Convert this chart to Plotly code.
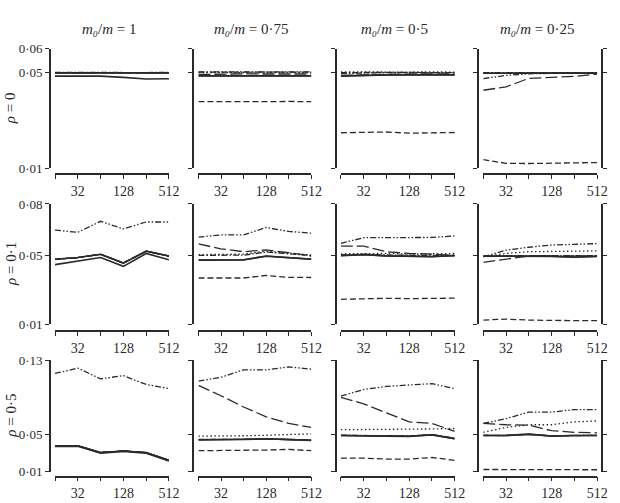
import math
import plotly.graph_objects as go

# ---------------- data ----------------
N = [16, 32, 64, 128, 256, 512]
X_LABEL_VALUES = [32, 128, 512]
X_LABEL_TEXT = ["32", "128", "512"]
COL_TITLES = ["1", "0·75", "0·5", "0·25"]
ROW_TITLES = ["0", "0·1", "0·5"]
Y_MAX = [0.06, 0.08, 0.13]
Y_TICKS = [[0.01, 0.05, 0.06], [0.01, 0.05, 0.08], [0.01, 0.05, 0.13]]
Y_TICK_TEXT = [["0·01", "0·05", "0·06"], ["0·01", "0·05", "0·08"], ["0·01", "0·05", "0·13"]]

# each series: [row][col] -> 6 values over N
SOLID_A = [
    [[0.0499, 0.0499, 0.0499, 0.0499, 0.0499, 0.0499],
     [0.0486, 0.0487, 0.0487, 0.0486, 0.0486, 0.0486],
     [0.0485, 0.0489, 0.0490, 0.0490, 0.0490, 0.0490],
     [0.0497, 0.0497, 0.0498, 0.0497, 0.0497, 0.0497]],
    [[0.0478, 0.0488, 0.0507, 0.0456, 0.0525, 0.0497],
     [0.0473, 0.0473, 0.0474, 0.0497, 0.0488, 0.0478],
     [0.0500, 0.0506, 0.0497, 0.0493, 0.0493, 0.0500],
     [0.0497, 0.0497, 0.0497, 0.0496, 0.0490, 0.0496]],
    [[0.0379, 0.0379, 0.0306, 0.0323, 0.0306, 0.0222],
     [0.0444, 0.0444, 0.0446, 0.0455, 0.0446, 0.0437],
     [0.0490, 0.0490, 0.0483, 0.0480, 0.0497, 0.0455],
     [0.0490, 0.0490, 0.0504, 0.0483, 0.0490, 0.0490]],
]
SOLID_B = [
    [[0.0485, 0.0485, 0.0485, 0.0480, 0.0473, 0.0474],
     [0.0487, 0.0487, 0.0486, 0.0487, 0.0486, 0.0487],
     [0.0487, 0.0490, 0.0490, 0.0491, 0.0490, 0.0491],
     [0.0497, 0.0498, 0.0497, 0.0497, 0.0498, 0.0497]],
    [[0.0447, 0.0466, 0.0488, 0.0437, 0.0512, 0.0475],
     [0.0474, 0.0474, 0.0475, 0.0496, 0.0487, 0.0479],
     [0.0499, 0.0505, 0.0498, 0.0494, 0.0494, 0.0499],
     [0.0496, 0.0497, 0.0496, 0.0495, 0.0491, 0.0495]],
    [[0.0372, 0.0374, 0.0300, 0.0317, 0.0300, 0.0216],
     [0.0443, 0.0445, 0.0445, 0.0454, 0.0445, 0.0438],
     [0.0489, 0.0489, 0.0484, 0.0481, 0.0496, 0.0456],
     [0.0489, 0.0491, 0.0503, 0.0484, 0.0489, 0.0489]],
]
DASH_DOT = [
    [[0.0501, 0.0500, 0.0501, 0.0500, 0.0500, 0.0501],
     [0.0502, 0.0502, 0.0501, 0.0502, 0.0501, 0.0502],
     [0.0500, 0.0501, 0.0500, 0.0501, 0.0500, 0.0500],
     [0.0500, 0.0500, 0.0501, 0.0500, 0.0500, 0.0500]],
    [[0.0478, 0.0488, 0.0507, 0.0456, 0.0525, 0.0497],
     [0.0501, 0.0500, 0.0502, 0.0520, 0.0508, 0.0500],
     [0.0503, 0.0508, 0.0503, 0.0500, 0.0500, 0.0503],
     [0.0498, 0.0500, 0.0499, 0.0499, 0.0498, 0.0499]],
    [[0.0379, 0.0379, 0.0306, 0.0323, 0.0306, 0.0222],
     [0.0448, 0.0447, 0.0450, 0.0452, 0.0448, 0.0440],
     [0.0493, 0.0490, 0.0486, 0.0484, 0.0500, 0.0460],
     [0.0493, 0.0488, 0.0500, 0.0486, 0.0488, 0.0492]],
]
DOTTED = [
    [[0.0500, 0.0500, 0.0500, 0.0500, 0.0500, 0.0500],
     [0.0500, 0.0499, 0.0500, 0.0499, 0.0500, 0.0499],
     [0.0503, 0.0502, 0.0503, 0.0502, 0.0503, 0.0502],
     [0.0499, 0.0499, 0.0500, 0.0499, 0.0499, 0.0500]],
    [[0.0478, 0.0488, 0.0507, 0.0456, 0.0525, 0.0497],
     [0.0505, 0.0505, 0.0508, 0.0525, 0.0512, 0.0503],
     [0.0510, 0.0512, 0.0512, 0.0508, 0.0510, 0.0512],
     [0.0493, 0.0512, 0.0522, 0.0525, 0.0526, 0.0527]],
    [[0.0379, 0.0379, 0.0306, 0.0323, 0.0306, 0.0222],
     [0.0483, 0.0483, 0.0487, 0.0492, 0.0500, 0.0507],
     [0.0552, 0.0552, 0.0553, 0.0555, 0.0560, 0.0565],
     [0.0524, 0.0576, 0.0605, 0.0605, 0.0636, 0.0646]],
]
LONG_DASH = [
    [[0.0499, 0.0499, 0.0499, 0.0499, 0.0499, 0.0499],
     [0.0492, 0.0494, 0.0495, 0.0494, 0.0495, 0.0494],
     [0.0488, 0.0492, 0.0493, 0.0494, 0.0494, 0.0495],
     [0.0426, 0.0440, 0.0476, 0.0480, 0.0484, 0.0494]],
    [[0.0478, 0.0488, 0.0507, 0.0456, 0.0525, 0.0497],
     [0.0567, 0.0539, 0.0522, 0.0533, 0.0516, 0.0497],
     [0.0555, 0.0555, 0.0522, 0.0512, 0.0508, 0.0500],
     [0.0460, 0.0478, 0.0497, 0.0497, 0.0496, 0.0497]],
    [[0.0379, 0.0379, 0.0306, 0.0323, 0.0306, 0.0222],
     [0.1029, 0.0917, 0.0796, 0.0691, 0.0619, 0.0577],
     [0.0900, 0.0830, 0.0733, 0.0636, 0.0619, 0.0535],
     [0.0619, 0.0605, 0.0601, 0.0541, 0.0524, 0.0518]],
]
SHORT_DASH = [
    [[0.0499, 0.0499, 0.0499, 0.0499, 0.0499, 0.0499],
     [0.0378, 0.0377, 0.0376, 0.0378, 0.0379, 0.0378],
     [0.0248, 0.0249, 0.0251, 0.0246, 0.0248, 0.0249],
     [0.0135, 0.0120, 0.0119, 0.0120, 0.0122, 0.0123]],
    [[0.0478, 0.0488, 0.0507, 0.0456, 0.0525, 0.0497],
     [0.0369, 0.0368, 0.0369, 0.0384, 0.0373, 0.0372],
     [0.0245, 0.0249, 0.0251, 0.0249, 0.0250, 0.0252],
     [0.0124, 0.0130, 0.0124, 0.0121, 0.0121, 0.0121]],
    [[0.0379, 0.0379, 0.0306, 0.0323, 0.0306, 0.0222],
     [0.0326, 0.0326, 0.0330, 0.0333, 0.0340, 0.0326],
     [0.0246, 0.0246, 0.0236, 0.0236, 0.0253, 0.0222],
     [0.0124, 0.0124, 0.0123, 0.0122, 0.0122, 0.0121]],
]
DASH_DOT_DOT = [
    [[0.0500, 0.0500, 0.0500, 0.0500, 0.0500, 0.0500],
     [0.0503, 0.0503, 0.0502, 0.0503, 0.0503, 0.0503],
     [0.0496, 0.0499, 0.0500, 0.0500, 0.0501, 0.0500],
     [0.0475, 0.0488, 0.0495, 0.0497, 0.0499, 0.0500]],
    [[0.0648, 0.0635, 0.0699, 0.0655, 0.0695, 0.0695],
     [0.0607, 0.0620, 0.0620, 0.0663, 0.0640, 0.0630],
     [0.0570, 0.0604, 0.0604, 0.0604, 0.0605, 0.0614],
     [0.0493, 0.0531, 0.0548, 0.0561, 0.0565, 0.0569]],
    [[0.1157, 0.1214, 0.1099, 0.1133, 0.1039, 0.0994],
     [0.1074, 0.1116, 0.1196, 0.1196, 0.1227, 0.1203],
     [0.0914, 0.0984, 0.1018, 0.1029, 0.1047, 0.0994],
     [0.0619, 0.0671, 0.0741, 0.0741, 0.0768, 0.0768]],
]

# ---------------- styling / layout ----------------
W, H = 620, 503
INK = "#2a2a2a"
FONT = "Liberation Serif"

SERIES = [
    (SHORT_DASH, "6px,3px", 1.3),
    (LONG_DASH, "12px,4px", 1.3),
    (DOTTED, "1.5px,2.5px", 1.3),
    (DASH_DOT, "6px,2px,1.5px,2px", 1.3),
    (DASH_DOT_DOT, "6px,2px,1.5px,2px,1.5px,2px", 1.3),
    (SOLID_B, "solid", 1.6),
    (SOLID_A, "solid", 1.6),
]

# pixel geometry of panels
COL_X = [(56, 172, 51), (202, 317, 196), (347, 463, 342), (492, 608, 487)]
ROW_Y = [(43, 166, 172), (203, 327, 334), (364, 479, 484)]
RIGHT_AXIS_X = 613

def px(x):
    return x / W

def py(y):
    return 1 - y / H

fig = go.Figure()
layout = dict(
    width=W, height=H, margin=dict(l=0, r=0, t=0, b=0),
    paper_bgcolor="white", plot_bgcolor="white", showlegend=False,
    font=dict(family=FONT, size=14, color=INK),
)

for r in range(3):
    for c in range(4):
        k = r * 4 + c + 1
        xs = "" if k == 1 else str(k)
        x0, x1, yax = COL_X[c]
        y0, y1, xax = ROW_Y[r]
        for data, dash, width in SERIES:
            fig.add_trace(go.Scatter(
                x=N, y=data[r][c], mode="lines",
                line=dict(color=INK, width=width, dash=dash),
                xaxis="x" + xs, yaxis="y" + xs, hoverinfo="skip",
            ))
        layout["xaxis" + xs] = dict(
            type="log", range=[math.log10(N[0]), math.log10(N[-1])],
            domain=[px(x0), px(x1)], anchor="free", position=py(xax),
            tickmode="array", tickvals=X_LABEL_VALUES, ticktext=X_LABEL_TEXT,
            ticks="outside", ticklen=4,
            tickwidth=1.3, tickcolor=INK, showline=True, linecolor=INK,
            linewidth=1.8, showgrid=False, zeroline=False,
            minor=dict(tickmode="array", tickvals=N, ticks="outside",
                       ticklen=4, tickwidth=1.3, tickcolor=INK, showgrid=False),
            tickfont=dict(family=FONT, size=14, color=INK),
        )
        layout["yaxis" + xs] = dict(
            range=[0.01, Y_MAX[r]], domain=[py(y1), py(y0)],
            anchor="free", position=px(yax),
            tickvals=Y_TICKS[r], ticktext=Y_TICK_TEXT[r],
            showticklabels=(c == 0), ticks="outside", ticklen=4,
            tickwidth=1.3, tickcolor=INK, showline=True, linecolor=INK,
            linewidth=1.8, showgrid=False, zeroline=False,
            tickfont=dict(family=FONT, size=13, color=INK),
        )
        if c == 3:
            rk = 13 + r
            fig.add_trace(go.Scatter(
                x=[], y=[], mode="lines", xaxis="x" + xs, yaxis="y%d" % rk,
                hoverinfo="skip",
            ))
            layout["yaxis%d" % rk] = dict(
                range=[0.01, Y_MAX[r]], overlaying="y" + xs, side="right",
                anchor="free", position=px(RIGHT_AXIS_X),
                tickvals=Y_TICKS[r], showticklabels=False, ticks="outside",
                ticklen=4, tickwidth=1.3, tickcolor=INK, showline=True,
                linecolor=INK, linewidth=1.8, showgrid=False, zeroline=False,
            )

annotations = []
for c in range(4):
    x0, x1, _ = COL_X[c]
    annotations.append(dict(
        text="<i>m₀</i>/<i>m</i> = " + COL_TITLES[c],
        x=px((x0 + x1) / 2 - 3), y=py(23), xref="paper", yref="paper",
        showarrow=False, xanchor="center", yanchor="middle",
        font=dict(family=FONT, size=15, color=INK),
    ))
for r in range(3):
    y0, y1, _ = ROW_Y[r]
    annotations.append(dict(
        text="<i>ρ</i> = " + ROW_TITLES[r],
        x=px(11), y=py((y0 + y1) / 2), xref="paper", yref="paper",
        showarrow=False, textangle=-90, xanchor="center", yanchor="middle",
        font=dict(family=FONT, size=15, color=INK),
    ))
layout["annotations"] = annotations

fig.update_layout(**layout)
fig.write_html("out.html")
